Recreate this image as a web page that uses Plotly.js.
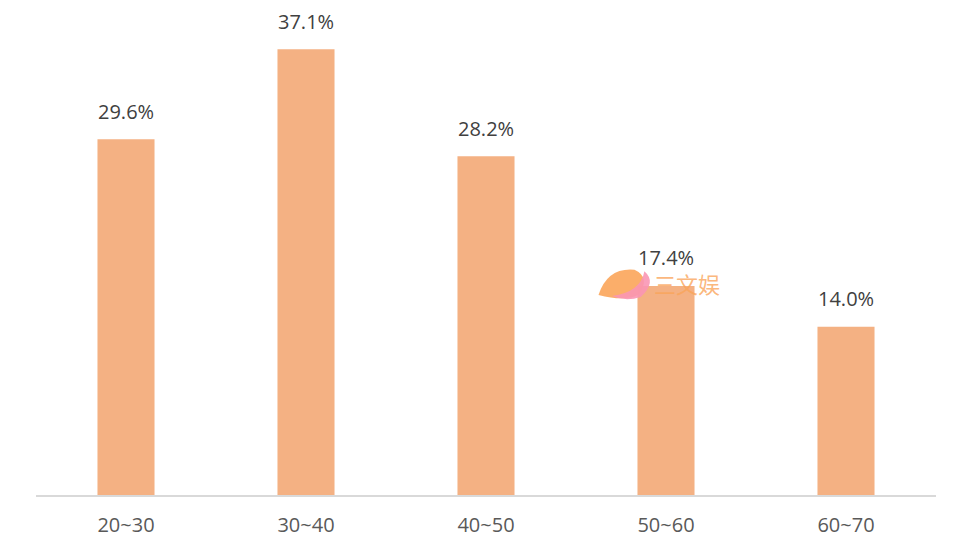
<!DOCTYPE html>
<html>
<head>
<meta charset="utf-8">
<script src="https://cdn.plot.ly/plotly-3.0.1.min.js"></script>
<style>html,body{margin:0;padding:0;background:#fff;}#chart{width:954px;height:549px;}</style>
</head>
<body>
<div id="chart"></div>
<script>
const categories = ["20~30", "30~40", "40~50", "50~60", "60~70"];
const values = [29.6, 37.1, 28.2, 17.4, 14.0];
const labels = ["29.6%", "37.1%", "28.2%", "17.4%", "14.0%"];

const FONT = "Open Sans, Noto Sans, sans-serif";
const annotations = categories.map((c, i) => ({
  x: c, y: values[i], text: labels[i], showarrow: false,
  yshift: 28, font: {family: FONT, size: 20, color: "#404040"}
}));
annotations.push({
  xref: "paper", yref: "paper", x: 0.723, y: 0.428, xanchor: "center", yanchor: "middle",
  text: "三文娱", showarrow: false,
  font: {family: "Noto Sans CJK SC", size: 22, color: "rgba(250,165,90,0.8)"}
});

// watermark logo (decoration), pixel-positioned via paper coordinates
const shapes = [
  {type: "path", xref: "paper", yref: "paper", layer: "above",
   path: "M 0.625 0.404 Q 0.635 0.46 0.665 0.455 Q 0.683 0.44 0.67 0.405 Q 0.655 0.39 0.625 0.404 Z",
   fillcolor: "rgba(250,160,80,0.85)", line: {width: 0}},
  {type: "path", xref: "paper", yref: "paper", layer: "above",
   path: "M 0.64 0.402 Q 0.672 0.41 0.676 0.452 Q 0.69 0.43 0.672 0.4 Q 0.655 0.39 0.64 0.402 Z",
   fillcolor: "rgba(250,150,180,0.9)", line: {width: 0}}
];

Plotly.newPlot("chart", [{
  type: "bar", x: categories, y: values,
  marker: {color: "#F4B183"}, hoverinfo: "none"
}], {
  width: 954, height: 549,
  margin: {l: 36, r: 18, t: 0, b: 54},
  paper_bgcolor: "#fff", plot_bgcolor: "#fff",
  bargap: 0.683,
  showlegend: false,
  xaxis: {
    showline: true, linecolor: "#D9D9D9", linewidth: 2,
    ticks: "outside", ticklen: 11, tickcolor: "rgba(0,0,0,0)",
    tickfont: {family: FONT, size: 20, color: "#595959"}, fixedrange: true
  },
  yaxis: {range: [0, 41.2], visible: false, showgrid: false, zeroline: false, fixedrange: true},
  annotations: annotations,
  shapes: shapes
}, {staticPlot: true});
</script>
</body>
</html>
